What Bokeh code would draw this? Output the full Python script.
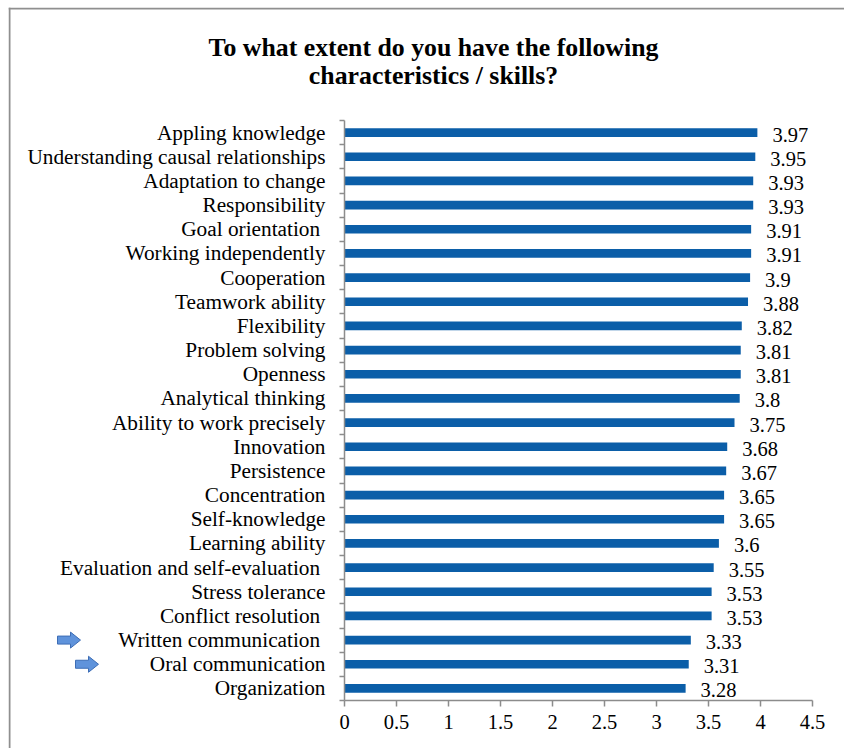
from bokeh.plotting import figure
from bokeh.models import Range1d, FixedTicker
from bokeh.core.properties import value
from bokeh.embed import file_html
from bokeh.resources import INLINE

# ---------------- data ----------------
categories = [
    "Appling knowledge", "Understanding causal relationships", "Adaptation to change",
    "Responsibility", "Goal orientation", "Working independently", "Cooperation",
    "Teamwork ability", "Flexibility", "Problem solving", "Openness",
    "Analytical thinking", "Ability to work precisely", "Innovation", "Persistence",
    "Concentration", "Self-knowledge", "Learning ability",
    "Evaluation and self-evaluation", "Stress tolerance", "Conflict resolution",
    "Written communication", "Oral communication", "Organization",
]
values = [3.97, 3.95, 3.93, 3.93, 3.91, 3.91, 3.9, 3.88, 3.82, 3.81, 3.81, 3.8,
          3.75, 3.68, 3.67, 3.65, 3.65, 3.6, 3.55, 3.53, 3.53, 3.33, 3.31, 3.28]
x_ticks = [0, 0.5, 1, 1.5, 2, 2.5, 3, 3.5, 4, 4.5]
x_tick_labels = ["0", "0.5", "1", "1.5", "2", "2.5", "3", "3.5", "4", "4.5"]
title_lines = ["To what extent do you have the following", "characteristics / skills?"]
highlighted = ["Written communication", "Oral communication"]
trailing_space = ["Goal orientation", "Evaluation and self-evaluation",
                  "Conflict resolution", "Written communication"]

# ---------------- layout / style ----------------
FONT = "Liberation Serif, Times New Roman, serif"
BAR = "#0B5EA8"
AXIS = "#8c8c8c"
BORDER = "#8f8f8f"
ARROW_FILL = "#5F93DB"
ARROW_LINE = "#3D6DB5"
W, H = 844, 748
FRAME_L, FRAME_T = 8, 7              # frame covers the whole chart box
X0_PX, X_MAX_PX = 344, 812           # pixel position of x=0 and x=4.5
Y0_PX, Y_TOP_PX = 700, 120           # pixel position of bottom / top of category band

n = len(categories)
x_max = x_ticks[-1]
ppx = (X_MAX_PX - X0_PX) / x_max     # pixels per x unit
ppy = (Y0_PX - Y_TOP_PX) / n         # pixels per category


def dx(px):
    return (px - X0_PX) / ppx


def dy(py):
    return (Y0_PX - py) / ppy


x_range = Range1d(dx(FRAME_L), dx(W))
y_range = Range1d(dy(H), dy(FRAME_T))

y_pos = [n - i - 0.5 for i in range(n)]
value_labels = [str(v) for v in values]

p = figure(width=W, height=H, x_range=x_range, y_range=y_range,
           output_backend="svg", toolbar_location=None,
           min_border_left=FRAME_L, min_border_top=FRAME_T,
           min_border_right=0, min_border_bottom=0)
p.outline_line_color = None
p.xgrid.visible = False
p.ygrid.visible = False

# chart box border (left and top edges)
p.quad(left=[dx(FRAME_L), dx(FRAME_L)], right=[dx(FRAME_L + 2), dx(W)],
       bottom=[dy(H), dy(FRAME_T + 2)], top=[dy(FRAME_T), dy(FRAME_T)],
       fill_color=BORDER, line_color=None)

# bars and value labels
p.hbar(y=y_pos, left=0, right=values, height=0.36, fill_color=BAR, line_color=None)
p.text(x=values, y=y_pos, text=value_labels, x_offset=15, y_offset=2,
       text_align="left", text_baseline="middle",
       text_font=value(FONT), text_font_size="20.5px", text_color="black")

# title
p.text(x=[dx(433), dx(433)], y=[dy(47), dy(75)], text=title_lines,
       text_align="center", text_baseline="alphabetic",
       text_font=value(FONT), text_font_style="bold", text_font_size="25.8px",
       text_color="black")

# arrows pointing at highlighted categories
arrow_left_px = {"Written communication": 57, "Oral communication": 75}
axs, ays = [], []
for c in highlighted:
    cy = y_pos[categories.index(c)]
    x0 = arrow_left_px[c]
    xs_px = [x0, x0 + 13, x0 + 13, x0 + 23, x0 + 13, x0 + 13, x0]
    dys_px = [4, 4, 8, 0, -8, -4, -4]
    axs.append([dx(v) for v in xs_px])
    ays.append([cy + d / ppy for d in dys_px])
p.patches(xs=axs, ys=ays, fill_color=ARROW_FILL, line_color=ARROW_LINE, line_width=1)

# x axis (inside the frame at y=0)
xa = p.xaxis[0]
xa.fixed_location = 0
xa.bounds = (0, x_max)
xa.ticker = FixedTicker(ticks=x_ticks, minor_ticks=[])
xa.major_label_overrides = {t: l for t, l in zip(x_ticks, x_tick_labels)}
xa.axis_line_color = AXIS
xa.axis_line_width = 1.5
xa.major_tick_line_color = AXIS
xa.major_tick_line_width = 1.5
xa.major_tick_out = 6
xa.major_tick_in = 0
xa.minor_tick_line_color = None
xa.major_label_standoff = 8
xa.major_label_text_font = FONT
xa.major_label_text_font_size = "20.5px"
xa.major_label_text_color = "black"

# y axis (inside the frame at x=0)
ya = p.yaxis[0]
ya.fixed_location = 0
ya.bounds = (0, n)
ya.ticker = FixedTicker(ticks=y_pos, minor_ticks=list(range(n + 1)))
ya.major_label_overrides = {
    y: (c + "\u00a0" if c in trailing_space else c) for y, c in zip(y_pos, categories)
}
ya.axis_line_color = AXIS
ya.axis_line_width = 1.5
ya.major_tick_line_color = None
ya.major_tick_out = 0
ya.major_tick_in = 0
ya.minor_tick_line_color = AXIS
ya.minor_tick_line_width = 1.5
ya.minor_tick_out = 5
ya.minor_tick_in = 0
ya.major_label_standoff = 14
ya.major_label_text_font = FONT
ya.major_label_text_font_size = "21.3px"
ya.major_label_text_color = "black"

open("out.html", "w").write(file_html(p, INLINE))
